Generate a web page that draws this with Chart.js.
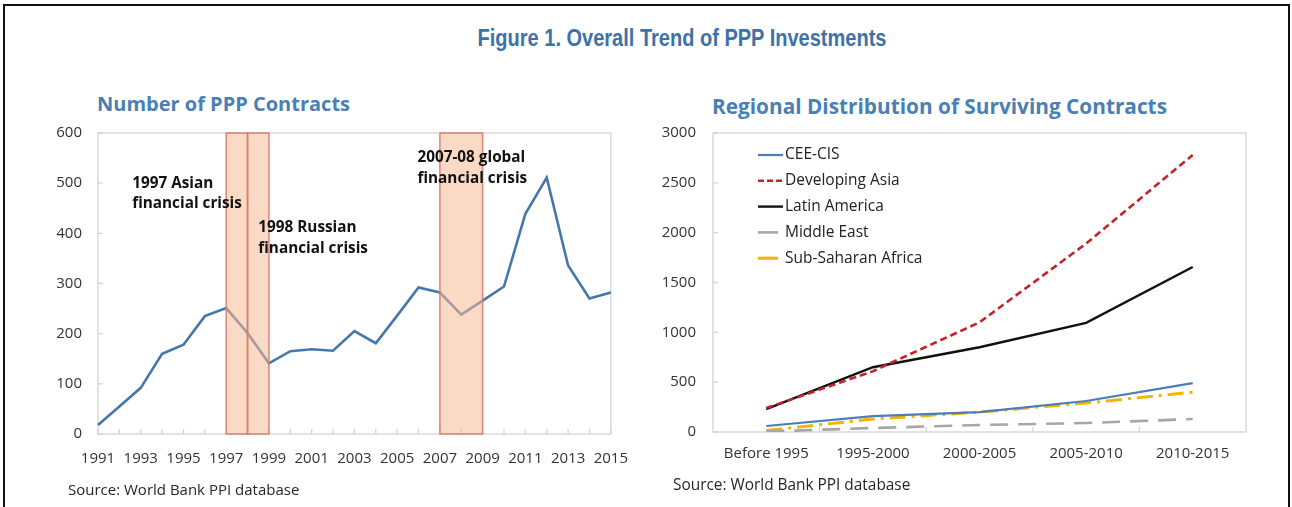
<!DOCTYPE html>
<html>
<head>
<meta charset="utf-8">
<script src="https://cdn.jsdelivr.net/npm/chart.js@4.4.1/dist/chart.umd.min.js"></script>
<style>
  body { margin: 0; width: 1292px; height: 507px; background: #fff; position: relative; overflow: hidden; font-family: "Open Sans", sans-serif; }
  .frame { position: absolute; left: 3px; top: 4px; width: 1283px; height: 540px; border: 2px solid #111; border-bottom: none; }
  .fig-title { position: absolute; left: 382px; width: 600px; top: 24px; text-align: center; font: bold 23px/28px "Liberation Sans", sans-serif; color: #3d72a9; transform: scaleX(0.87); transform-origin: 300px 0; }
  .sub-title { position: absolute; font: bold 20px/24px "Open Sans", sans-serif; color: #4a7fb5; white-space: nowrap; }
  .source { position: absolute; font: 15px/20px "Open Sans", sans-serif; color: #262626; white-space: nowrap; }
  canvas { position: absolute; }
</style>
</head>
<body>
<div class="frame"></div>
<div class="fig-title">Figure 1. Overall Trend of PPP Investments</div>

<div class="sub-title" style="left:97px;top:92px">Number of PPP Contracts</div>
<canvas id="contracts" width="604" height="372" style="left:40px;top:108px"></canvas>
<div class="source" style="left:68px;top:479px">Source: World Bank PPI database</div>

<div class="sub-title" style="left:712px;top:94px;font-size:20.8px">Regional Distribution of Surviving Contracts</div>
<canvas id="regions" width="620" height="373" style="left:650px;top:107px"></canvas>
<div class="source" style="left:673px;top:475px;font-size:15.4px">Source: World Bank PPI database</div>

<script>
// ---- data: number of PPP contracts per year
const years = ['1991','1992','1993','1994','1995','1996','1997','1998','1999','2000','2001','2002','2003',
               '2004','2005','2006','2007','2008','2009','2010','2011','2012','2013','2014','2015'];
const contracts = [18, 55, 92, 160, 178, 235, 251, 201, 141, 165, 169, 166, 205,
                   181, 236, 292, 282, 238, 266, 294, 439, 511, 336, 270, 282];
const contractTicks = [0, 100, 200, 300, 400, 500, 600];

// crisis periods (from year, to year) and their notes
const crisisBands = [['1997', '1998'], ['1998', '1999'], ['2007', '2009']];
const crisisNotes = [
  ['1997 Asian', 'financial crisis'],
  ['1998 Russian', 'financial crisis'],
  ['2007-08 global', 'financial crisis']
];

// ---- data: regional distribution of surviving contracts
const periods = ['Before 1995', '1995-2000', '2000-2005', '2005-2010', '2010-2015'];
const ceeCis  = [60, 160, 200, 311, 490];
const devAsia = [240, 610, 1100, 1890, 2780];
const latAm   = [230, 650, 850, 1095, 1655];
const midEast = [5, 40, 70, 90, 130];
const ssa     = [15, 130, 200, 290, 400];
const regionTicks = [0, 500, 1000, 1500, 2000, 2500, 3000];

const tickFont = { family: '"Open Sans", sans-serif', size: 15 };
const tickColor = '#333';

// light box round the plot area plus short inward tick marks
const plotBox = {
  id: 'plotBox',
  beforeDatasetsDraw(chart, args, opts) {
    const { ctx, chartArea: a, scales: { x, y } } = chart;
    ctx.save();
    ctx.strokeStyle = '#d4d4d4';
    ctx.lineWidth = 1.3;
    ctx.strokeRect(a.left, a.top, a.width, a.height);
    ctx.beginPath();
    y.ticks.forEach((t, i) => {
      const py = y.getPixelForTick(i);
      ctx.moveTo(a.left, py); ctx.lineTo(a.left + 5, py);
    });
    const n = x.ticks.length;
    for (let i = 0; i < n; i++) {
      if (opts.between && i === 0) continue;
      const px = opts.between ? x.getPixelForValue(i - 0.5) : x.getPixelForTick(i);
      ctx.moveTo(px, a.bottom); ctx.lineTo(px, a.bottom - 5);
    }
    ctx.stroke();
    ctx.restore();
  }
};

// shaded crisis bands and their notes on the left chart
const crisisLayer = {
  id: 'crisisLayer',
  afterDatasetsDraw(chart) {
    const { ctx, chartArea: a, scales: { x, y } } = chart;
    ctx.save();
    crisisBands.forEach(([from, to]) => {
      const x0 = x.getPixelForValue(years.indexOf(from));
      const x1 = x.getPixelForValue(years.indexOf(to));
      ctx.fillStyle = 'rgba(245, 188, 148, 0.55)';
      ctx.fillRect(x0, a.top, x1 - x0, a.bottom - a.top);
      ctx.strokeStyle = 'rgba(214, 120, 110, 0.85)';
      ctx.lineWidth = 1.6;
      ctx.strokeRect(x0, a.top, x1 - x0, a.bottom - a.top);
    });
    // anchor of each note: [year index, value]
    const anchors = [[1.6, 500], [7.5, 411], [14.95, 550]];
    ctx.fillStyle = '#111';
    ctx.font = 'bold 15.3px "Open Sans", sans-serif';
    ctx.textBaseline = 'middle';
    crisisNotes.forEach((lines, k) => {
      const px = x.getPixelForValue(anchors[k][0]);
      const py = y.getPixelForValue(anchors[k][1]);
      lines.forEach((s, j) => ctx.fillText(s, px, py + j * 20.5));
    });
    ctx.restore();
  }
};

// legend drawn inside the plot area, top-left
const insideLegend = {
  id: 'insideLegend',
  afterDatasetsDraw(chart) {
    const { ctx, chartArea: a } = chart;
    ctx.save();
    ctx.font = '15.5px "Open Sans", sans-serif';
    ctx.textBaseline = 'middle';
    chart.data.datasets.forEach((ds, i) => {
      const yy = a.top + 22 + i * 25.8;
      const x0 = a.left + 45;
      ctx.strokeStyle = ds.borderColor;
      ctx.lineWidth = ds.borderWidth;
      ctx.setLineDash(ds.legendDash || []);
      ctx.beginPath();
      ctx.moveTo(x0, yy); ctx.lineTo(x0 + ds.legendLen, yy);
      ctx.stroke();
      ctx.setLineDash([]);
      ctx.fillStyle = '#222';
      ctx.fillText(ds.label, x0 + 27, yy);
    });
    ctx.restore();
  }
};

new Chart(document.getElementById('contracts'), {
  type: 'line',
  data: {
    labels: years,
    datasets: [{
      data: contracts,
      borderColor: '#4677ab',
      borderWidth: 2.6,
      pointRadius: 0,
      tension: 0,
      fill: false
    }]
  },
  options: {
    responsive: false,
    animation: false,
    layout: { padding: 0 },
    plugins: { legend: { display: false }, tooltip: { enabled: false }, plotBox: { between: false } },
    scales: {
      x: {
        offset: false,
        grid: { display: false, drawTicks: false },
        border: { display: false },
        ticks: {
          autoSkip: false, maxRotation: 0, padding: 16, font: tickFont, color: tickColor,
          callback: (v, i) => (i % 2 === 0 ? years[i] : '')
        },
        afterFit: s => { s.height = 46; }
      },
      y: {
        min: 0, max: 600,
        grid: { display: false, drawTicks: false },
        border: { display: false },
        afterBuildTicks: s => { s.ticks = contractTicks.map(v => ({ value: v })); },
        ticks: { padding: 16, font: tickFont, color: tickColor, callback: v => String(v) },
        afterFit: s => { s.width = 58; }
      }
    }
  },
  plugins: [plotBox, crisisLayer]
});

new Chart(document.getElementById('regions'), {
  type: 'line',
  data: {
    labels: periods,
    datasets: [
      { label: 'CEE-CIS', data: ceeCis, borderColor: '#4a7ebb', borderWidth: 2.2, legendLen: 25 },
      { label: 'Developing Asia', data: devAsia, borderColor: '#c3242c', borderWidth: 2.6, borderDash: [7, 4], legendDash: [6, 3], legendLen: 25 },
      { label: 'Latin America', data: latAm, borderColor: '#111111', borderWidth: 2.4, legendLen: 25 },
      { label: 'Middle East', data: midEast, borderColor: '#a6a6a6', borderWidth: 2.6, borderDash: [18, 10], legendLen: 20 },
      { label: 'Sub-Saharan Africa', data: ssa, borderColor: '#f2b500', borderWidth: 3, borderDash: [16, 6, 3, 6], legendLen: 20 }
    ].map(d => Object.assign({ pointRadius: 0, tension: 0, fill: false }, d))
  },
  options: {
    responsive: false,
    animation: false,
    layout: { padding: { left: 0, top: 0, right: 24, bottom: 0 } },
    plugins: { legend: { display: false }, tooltip: { enabled: false }, plotBox: { between: true } },
    scales: {
      x: {
        offset: true,
        grid: { display: false, drawTicks: false },
        border: { display: false },
        ticks: { maxRotation: 0, padding: 13, font: tickFont, color: tickColor },
        afterFit: s => { s.height = 48; }
      },
      y: {
        min: 0, max: 3000,
        grid: { display: false, drawTicks: false },
        border: { display: false },
        afterBuildTicks: s => { s.ticks = regionTicks.map(v => ({ value: v })); },
        ticks: { padding: 17, font: tickFont, color: tickColor, callback: v => String(v) },
        afterFit: s => { s.width = 63; }
      }
    }
  },
  plugins: [plotBox, insideLegend]
});
</script>
</body>
</html>
